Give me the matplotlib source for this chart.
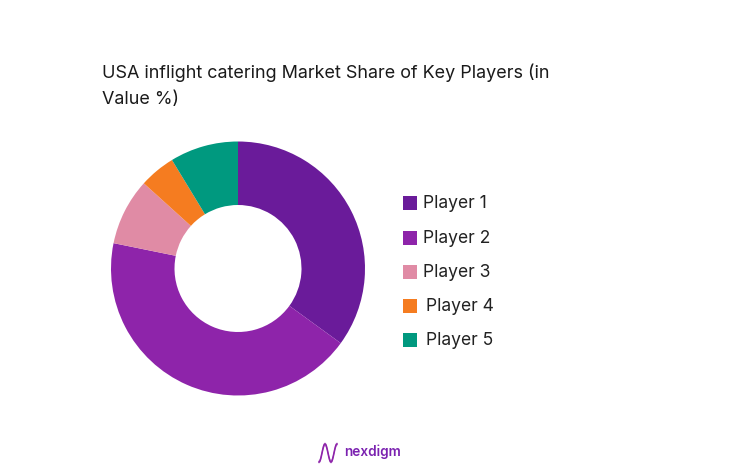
import numpy as np
import matplotlib
matplotlib.use("Agg")
import matplotlib.pyplot as plt
from matplotlib.patches import Rectangle

players = ["Player 1", "Player 2", "Player 3", "Player 4", "Player 5"]
shares = [35, 43.2, 8.5, 4.6, 8.7]
colors = ["#6A1B9A", "#8E24AA", "#E08BA5", "#F57C20", "#00997F"]
legend_x = [423, 423, 423, 426, 426]
legend_y = [203, 238, 272, 306, 340]

W, H = 739, 475

plt.rcParams["font.family"] = ["Inter", "DejaVu Sans"]

fig = plt.figure(figsize=(W / 100, H / 100), dpi=100, facecolor="white")

# Full-figure axes in pixel coordinates, y pointing down
bg = fig.add_axes([0, 0, 1, 1])
bg.set_xlim(0, W)
bg.set_ylim(H, 0)
bg.axis("off")

bg.text(102, 73, "USA inflight catering Market Share of Key Players (in", fontsize=12.95, color="#1a1a1a", va="center")
bg.text(102, 100, "Value %)", fontsize=12.95, color="#1a1a1a", va="center")

# Donut, centre about (238, 268), outer radius about 127 px
size = 254
ax = fig.add_axes([(238 - size / 2) / W, 1 - (268.5 + size / 2) / H, size / W, size / H])
ax.pie(shares, colors=colors, startangle=90, counterclock=False, radius=1.0,
       wedgeprops=dict(width=0.5, linewidth=0))
ax.set_xlim(-1, 1)
ax.set_ylim(-1, 1)

for name, col, lx, ly in zip(players, colors, legend_x, legend_y):
    bg.add_patch(Rectangle((403, ly - 7), 14, 14, color=col, lw=0))
    bg.text(lx, ly + 0.5, name, fontsize=12.6, color="#222222", va="center")

# Footer logo: N-shaped wave and wordmark
t = np.linspace(0, 1, 80)
for amp, lw, al in [(9, 1.2, 1.0), (7.5, 0.6, 0.5), (10, 0.6, 0.5)]:
    bg.plot(319 + 18 * t, 453 + amp * np.cos(3 * np.pi * t), color="#8E24AA", lw=lw, alpha=al)
bg.text(344, 452, "nexdigm", fontsize=9.8, fontweight="semibold", color="#7B22B0", va="center")

fig.savefig("out.png", dpi=100, facecolor="white")
